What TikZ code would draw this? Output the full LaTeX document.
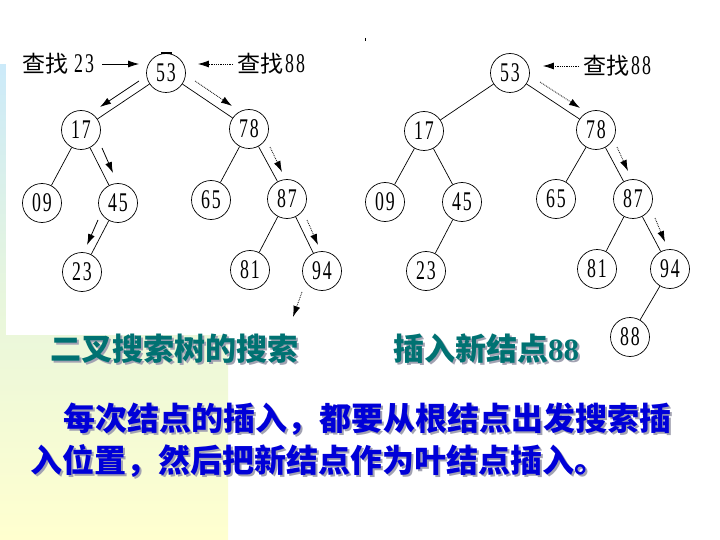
\documentclass[tikz,border=0pt]{standalone}
\usepackage{fontspec}
\usepackage{graphicx}
\usetikzlibrary{arrows.meta,calc}
\newfontfamily\cjk{Noto Sans CJK SC}
\newfontfamily\numf{Liberation Serif}
\definecolor{tealc}{HTML}{007272}
\definecolor{bluec}{HTML}{0000D8}
\definecolor{shadc}{HTML}{A2A2B2}
\definecolor{stripblue}{HTML}{CCEAF9}
\definecolor{stripmid}{HTML}{E8F6DC}
\definecolor{stripyel}{HTML}{FFFFCF}
\newcommand\dg[2]{\scalebox{0.66}[1]{\numf\fontsize{27}{27}\selectfont #1\kern3pt#2}}
\newcommand\shd[1]{\rlap{\kern2pt\raisebox{-2pt}{\textcolor{shadc}{#1}}}#1}
\begin{document}
\begin{tikzpicture}[x=1pt,y=-1pt,
  tn/.style={circle,draw,line width=0.7pt,minimum size=39pt,inner sep=0pt},
  edge/.style={line width=0.7pt},
  sarr/.style={line width=0.8pt,-{Latex[length=11pt,width=7pt]}},
  darr/.style={line width=0.8pt,densely dotted,-{Latex[length=11pt,width=7pt]}},
  lab/.style={anchor=west,inner sep=0pt,font=\cjk\fontsize{23}{23}\selectfont},
  capt/.style={anchor=west,inner sep=0pt,text=tealc,font=\cjk\bfseries\fontsize{31}{31}\selectfont},
  bodyt/.style={anchor=west,inner sep=0pt,text=bluec,font=\cjk\bfseries\fontsize{32}{32}\selectfont},
]
\useasboundingbox (0,0) rectangle (720,540);
% background
\shade[top color=stripblue,bottom color=stripyel,middle color=stripmid] (0,65) rectangle (228,540);
\fill[white] (6,0) rectangle (720,335);

% ---------- left tree ----------
\node[tn] (L53) at (166,73) {\dg{5}{3}};
\node[tn] (L17) at (81,130) {\dg{1}{7}};
\node[tn] (L78) at (249,129) {\dg{7}{8}};
\node[tn] (L09) at (42,203) {\dg{0}{9}};
\node[tn] (L45) at (118,203) {\dg{4}{5}};
\node[tn] (L65) at (211,200) {\dg{6}{5}};
\node[tn] (L87) at (287,199) {\dg{8}{7}};
\node[tn] (L23) at (82,272) {\dg{2}{3}};
\node[tn] (L81) at (250,270) {\dg{8}{1}};
\node[tn] (L94) at (322,271) {\dg{9}{4}};
\draw[edge] (L53) -- (L17);
\draw[edge] (L53) -- (L78);
\draw[edge] (L17) -- (L09);
\draw[edge] (L17) -- (L45);
\draw[edge] (L45) -- (L23);
\draw[edge] (L78) -- (L65);
\draw[edge] (L78) -- (L87);
\draw[edge] (L87) -- (L81);
\draw[edge] (L87) -- (L94);
\draw[line width=2pt] (161,53) -- (172,53);

% labels left
\node[lab] (Q23) at (22,64) {查找\hspace{6pt}\dg{2}{3}};
\node[lab] (Q88a) at (237,64) {查找\hspace{2pt}\dg{8}{8}};
\draw[sarr,shorten <=8pt,shorten >=7pt] (Q23.east) -- (Q23.east -| L53.west);
\draw[darr,shorten <=4pt,shorten >=12pt] (Q88a.west) -- (Q88a.west -| L53.east);

% search paths left
\coordinate (a1s) at (139,81);  \coordinate (a1e) at (100,107);
\coordinate (a2s) at (102,148); \coordinate (a2e) at (113,173);
\coordinate (a3s) at (98,220);  \coordinate (a3e) at (87,245);
\draw[sarr] (a1s) -- (a1e);
\draw[sarr] (a2s) -- (a2e);
\draw[sarr] (a3s) -- (a3e);
\coordinate (b1s) at (195,81);  \coordinate (b1e) at (232,106);
\coordinate (b2s) at (270,147); \coordinate (b2e) at (282,172);
\coordinate (b3s) at (307,220); \coordinate (b3e) at (318,245);
\coordinate (b4s) at (302,292); \coordinate (b4e) at (293,317);
\draw[darr] (b1s) -- (b1e);
\draw[darr] (b2s) -- (b2e);
\draw[darr] (b3s) -- (b3e);
\draw[darr] (b4s) -- (b4e);

% ---------- right tree ----------
\node[tn] (R53) at (510,73) {\dg{5}{3}};
\node[tn] (R17) at (424,131) {\dg{1}{7}};
\node[tn] (R78) at (596,130) {\dg{7}{8}};
\node[tn] (R09) at (385,202) {\dg{0}{9}};
\node[tn] (R45) at (462,202) {\dg{4}{5}};
\node[tn] (R65) at (556,199) {\dg{6}{5}};
\node[tn] (R87) at (633,199) {\dg{8}{7}};
\node[tn] (R23) at (426,271) {\dg{2}{3}};
\node[tn] (R81) at (597,269) {\dg{8}{1}};
\node[tn] (R94) at (670,269) {\dg{9}{4}};
\node[tn] (R88) at (630,337) {\dg{8}{8}};
\draw[edge] (R53) -- (R17);
\draw[edge] (R53) -- (R78);
\draw[edge] (R17) -- (R09);
\draw[edge] (R17) -- (R45);
\draw[edge] (R45) -- (R23);
\draw[edge] (R78) -- (R65);
\draw[edge] (R78) -- (R87);
\draw[edge] (R87) -- (R81);
\draw[edge] (R87) -- (R94);
\draw[edge] (R94) -- (R88);
\draw[line width=0.8pt] (365,38) -- (365,41);

\node[lab] (Q88b) at (583,66) {查找\hspace{2pt}\dg{8}{8}};
\draw[darr,shorten <=4pt,shorten >=13pt] (Q88b.west) -- (Q88b.west -| R53.east);
\coordinate (c1s) at (540,82);  \coordinate (c1e) at (580,108);
\coordinate (c2s) at (617,147); \coordinate (c2e) at (628,171);
\coordinate (c3s) at (655,218); \coordinate (c3e) at (665,242);
\draw[darr] (c1s) -- (c1e);
\draw[darr] (c2s) -- (c2e);
\draw[darr] (c3s) -- (c3e);

% ---------- captions ----------
\node[capt] (cap1) at (50,350) {\shd{二叉搜索树的搜索}};
\node[capt] (cap2) at (393,350) {\shd{插入新结点{\numf\bfseries 88}}};

\node[bodyt] (t1) at (63,420) {\shd{每次结点的插入，都要从根结点出发搜索插}};
\node[bodyt] (t2) at (30,462) {\shd{入位置，然后把新结点作为叶结点插入。}};
\end{tikzpicture}
\end{document}
